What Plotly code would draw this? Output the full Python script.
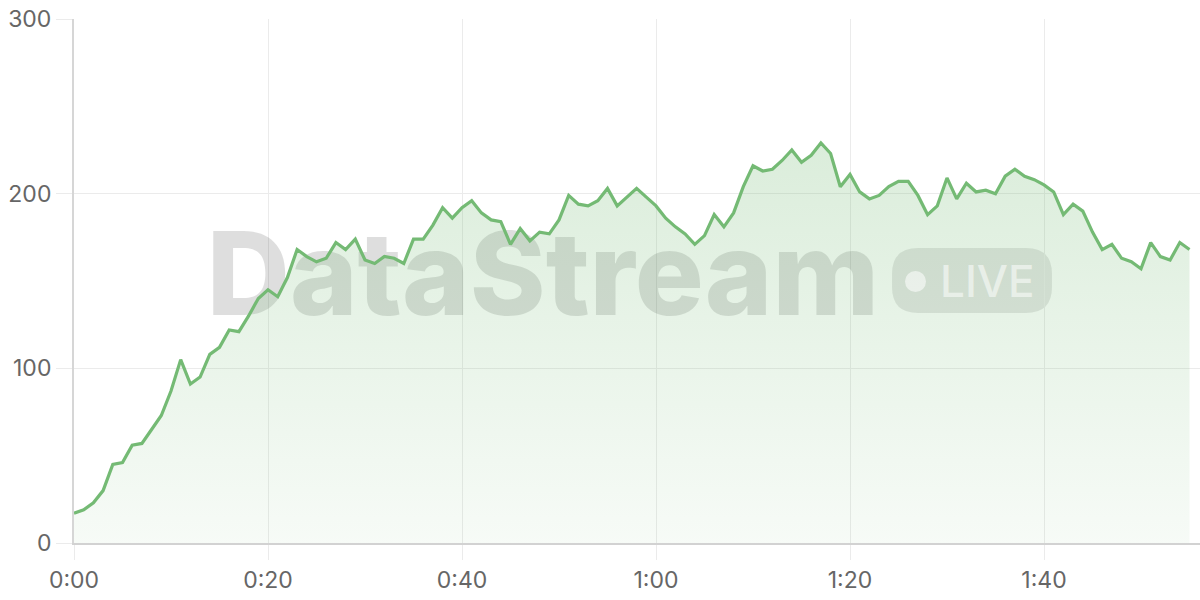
import plotly.graph_objects as go

# ---- data ----
seconds = list(range(116))
values = [17, 19, 23, 30, 45, 46, 56, 57, 65, 73,
          87, 105, 91, 95, 108, 112, 122, 121, 130, 140,
          145, 141, 152, 168, 164, 161, 163, 172, 168, 174,
          162, 160, 164, 163, 160, 174, 174, 182, 192, 186,
          192, 196, 189, 185, 184, 171, 180, 173, 178, 177,
          185, 199, 194, 193, 196, 203, 193, 198, 203, 198,
          193, 186, 181, 177, 171, 176, 188, 181, 189, 204,
          216, 213, 214, 219, 225, 218, 222, 229, 223, 204,
          211, 201, 197, 199, 204, 207, 207, 199, 188, 193,
          209, 197, 206, 201, 202, 200, 210, 214, 210, 208,
          205, 201, 188, 194, 190, 178, 168, 171, 163, 161,
          157, 172, 164, 162, 172, 168]
tick_vals = [0, 20, 40, 60, 80, 100]
tick_text = ["0:00", "0:20", "0:40", "1:00", "1:20", "1:40"]
y_ticks = [0, 100, 200, 300]

# ---- layout geometry (pixels) ----
W, H = 1200, 600
ML, MR, MT, MB = 74, 0, 19, 57
PW, PH = W - ML - MR, H - MT - MB
XPX = 9.7             # pixels per second
YPX = PH / 300.0      # pixels per unit


def px_to_paper(px, py):
    return (px - ML) / PW, (H - MB - py) / PH


def rounded_rect_path(x0, y0, x1, y1, r):
    def P(x, y):
        a, b = px_to_paper(x, y)
        return f"{a:.5f},{b:.5f}"
    return (f"M {P(x0 + r, y0)} L {P(x1 - r, y0)} Q {P(x1, y0)} {P(x1, y0 + r)} "
            f"L {P(x1, y1 - r)} Q {P(x1, y1)} {P(x1 - r, y1)} "
            f"L {P(x0 + r, y1)} Q {P(x0, y1)} {P(x0, y1 - r)} "
            f"L {P(x0, y0 + r)} Q {P(x0, y0)} {P(x0 + r, y0)} Z")


LINE = "#74ba74"
FONT = "Inter, Roboto, 'Open Sans', sans-serif"

fig = go.Figure()

# watermark text (under the data)
wx = (543 - ML) / XPX
wy = (H - MB - 286) / YPX
fig.add_trace(go.Scatter(
    x=[wx], y=[wy], mode="text", text=["DataStream"],
    textfont=dict(family=FONT, size=115, color="rgba(0,0,0,0.13)", weight=800),
    textposition="middle center", hoverinfo="skip", showlegend=False,
    cliponaxis=False))

# area series
fig.add_trace(go.Scatter(
    x=seconds, y=values, mode="lines",
    line=dict(color=LINE, width=3.2),
    fill="tozeroy",
    fillgradient=dict(type="vertical",
                      colorscale=[[0, "rgba(116,186,116,0.06)"],
                                  [1, "rgba(116,186,116,0.26)"]]),
    hoverinfo="skip", showlegend=False))

shapes = [
    dict(type="path", xref="paper", yref="paper", layer="between",
         path=rounded_rect_path(892, 248, 1052, 313, 26),
         fillcolor="rgba(0,0,0,0.10)", line=dict(width=0)),
]
c0 = px_to_paper(905, 292)
c1 = px_to_paper(926, 271)
shapes.append(dict(type="circle", xref="paper", yref="paper", layer="above",
                   x0=c0[0], y0=c0[1], x1=c1[0], y1=c1[1],
                   fillcolor="rgba(255,255,255,0.55)", line=dict(width=0)))

lx, ly = px_to_paper(987, 281)
annotations = [dict(xref="paper", yref="paper", x=lx, y=ly, text="LIVE",
                    showarrow=False, xanchor="center", yanchor="middle",
                    font=dict(family=FONT, size=44, color="rgba(255,255,255,0.55)",
                              weight=500))]

fig.update_layout(
    width=W, height=H,
    margin=dict(l=ML, r=MR, t=MT, b=MB, pad=0),
    paper_bgcolor="white", plot_bgcolor="white",
    shapes=shapes, annotations=annotations,
    showlegend=False, hovermode=False,
    xaxis=dict(range=[0, PW / XPX], tickvals=tick_vals, ticktext=tick_text,
               showgrid=True, gridcolor="#ebebeb", gridwidth=1,
               showline=True, linecolor="#d2d2d2", linewidth=2,
               ticks="outside", ticklen=15, tickcolor="#ebebeb", tickwidth=1,
               zeroline=False, fixedrange=True,
               tickfont=dict(family=FONT, size=23, color="#666666")),
    yaxis=dict(range=[0, 300], tickvals=y_ticks,
               showgrid=True, gridcolor="#ebebeb", gridwidth=1,
               showline=True, linecolor="#d6d6d6", linewidth=2,
               ticks="outside", ticklen=16, tickcolor="#ebebeb", tickwidth=1,
               zeroline=False, fixedrange=True,
               tickfont=dict(family=FONT, size=23, color="#666666")),
)

fig.write_html("out.html", config={"displayModeBar": False, "staticPlot": True},
               post_script="document.body.style.margin='0';document.body.style.overflow='hidden';")
